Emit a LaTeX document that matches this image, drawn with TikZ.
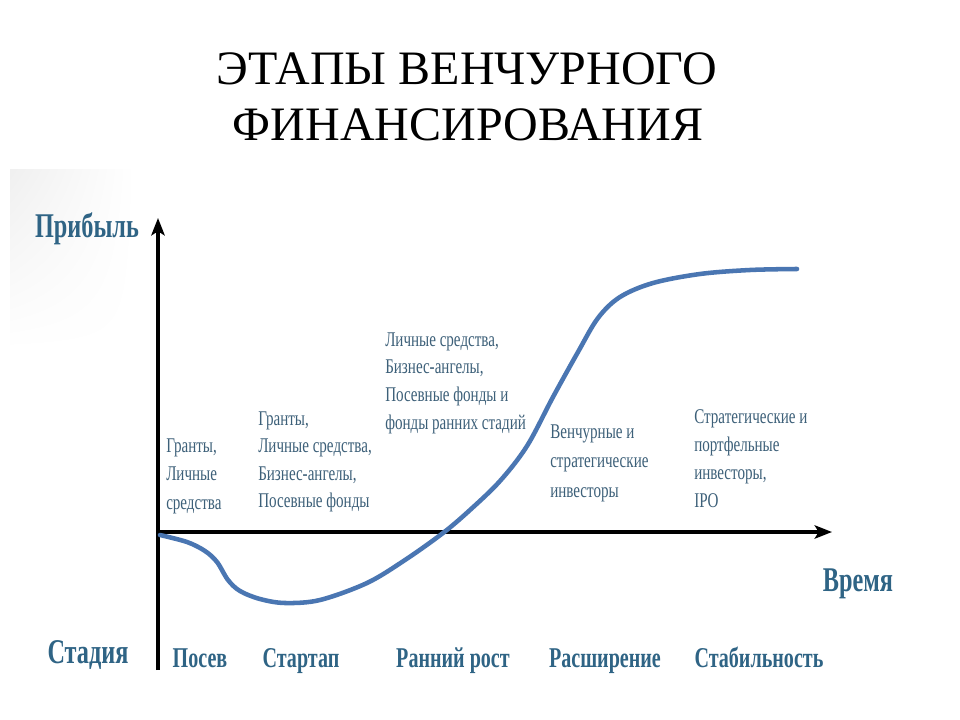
\documentclass[tikz,border=0pt]{standalone}
\usepackage{fontspec}
\setmainfont{Liberation Serif}
\newfontfamily\condr[FakeStretch=0.72]{Liberation Serif}
\newfontfamily\condb[FakeStretch=0.70]{Liberation Serif Bold}
\usetikzlibrary{arrows.meta,shadings}
\definecolor{lblue}{HTML}{2F6485}
\definecolor{tblue}{HTML}{3D6079}
\definecolor{cblue}{HTML}{4A76B2}
\tikzset{
  axis/.style={line width=3pt, -{Stealth[length=13pt,width=10pt,inset=3pt]}},
  curveline/.style={cblue, line width=3.4pt, line cap=round},
  biglbl/.style={font=\condb\fontsize{26}{30}\selectfont, text=lblue, inner sep=0pt, anchor=base},
  stagelbl/.style={font=\condb\fontsize{21.5}{25}\selectfont, text=lblue, inner sep=0pt, anchor=base},
  smalltxt/.style={font=\condr\fontsize{15.7}{18}\selectfont, text=tblue, inner sep=0pt, anchor=base west},
  titletxt/.style={font=\fontsize{36}{42}\selectfont, text=black, inner sep=0pt, anchor=base}
}
\begin{document}
\begin{tikzpicture}[x=0.75pt,y=-0.75pt]
\useasboundingbox (0,0) rectangle (960,720);
\fill[white] (0,0) rectangle (960,720);
\shade[upper left=black!6, upper right=white, lower left=white, lower right=white] (10,170) rectangle (135,350);
% title
\node[titletxt] (t1) at (467,85) {ЭТАПЫ ВЕНЧУРНОГО};
\node[titletxt] (t2) at (468,141) {ФИНАНСИРОВАНИЯ};
% axes
\coordinate (o) at (158,532);
\coordinate (ybot) at (158,670);
\coordinate (ytop) at (158,218);
\coordinate (xend) at (832,532);
\draw[axis] (ybot) -- (ytop);
\draw[axis] (o) -- (xend);
% curve
\draw[curveline] plot[smooth, tension=0.55] coordinates {
 (160,535) (187,542) (205,551) (217,562) (228,580) (240,591) (260,599) (285,603)
 (320,600) (367,583) (405,560) (443,533) (470,510) (500,481) (527,446) (553,397)
 (578,352) (598,318) (620,297) (653,283) (700,274) (750,270) (797,269)};
% axis labels
\node[biglbl] (profit) at (87,238) {Прибыль};
\node[biglbl] (time) at (858,591) {Время};
\node[biglbl] (stage) at (88,663) {Стадия};
% stage names
\node[stagelbl] (s1) at (200,667) {Посев};
\node[stagelbl] (s2) at (301,667) {Стартап};
\node[stagelbl] (s3) at (453,667) {Ранний рост};
\node[stagelbl] (s4) at (605,667) {Расширение};
\node[stagelbl] (s5) at (759,667) {Стабильность};
% sources of financing
\foreach \t [count=\i] in {{Гранты,},{Личные},{средства}}
  \node[smalltxt] (ga\i) at (166,{452+(\i-1)*28.5}) {\t};
\foreach \t [count=\i] in {{Гранты,},{Личные средства,},{Бизнес-ангелы,},{Посевные фонды}}
  \node[smalltxt] (gb\i) at (258,{425+(\i-1)*27.5}) {\t};
\foreach \t [count=\i] in {{Личные средства,},{Бизнес-ангелы,},{Посевные фонды и},{фонды ранних стадий}}
  \node[smalltxt] (gc\i) at (385,{346+(\i-1)*27.7}) {\t};
\foreach \t [count=\i] in {{Венчурные и},{стратегические},{инвесторы}}
  \node[smalltxt] (gd\i) at (550,{438+(\i-1)*29.5}) {\t};
\foreach \t [count=\i] in {{Стратегические и},{портфельные},{инвесторы,},{IPO}}
  \node[smalltxt] (ge\i) at (694,{423+(\i-1)*28}) {\t};
\end{tikzpicture}
\end{document}
